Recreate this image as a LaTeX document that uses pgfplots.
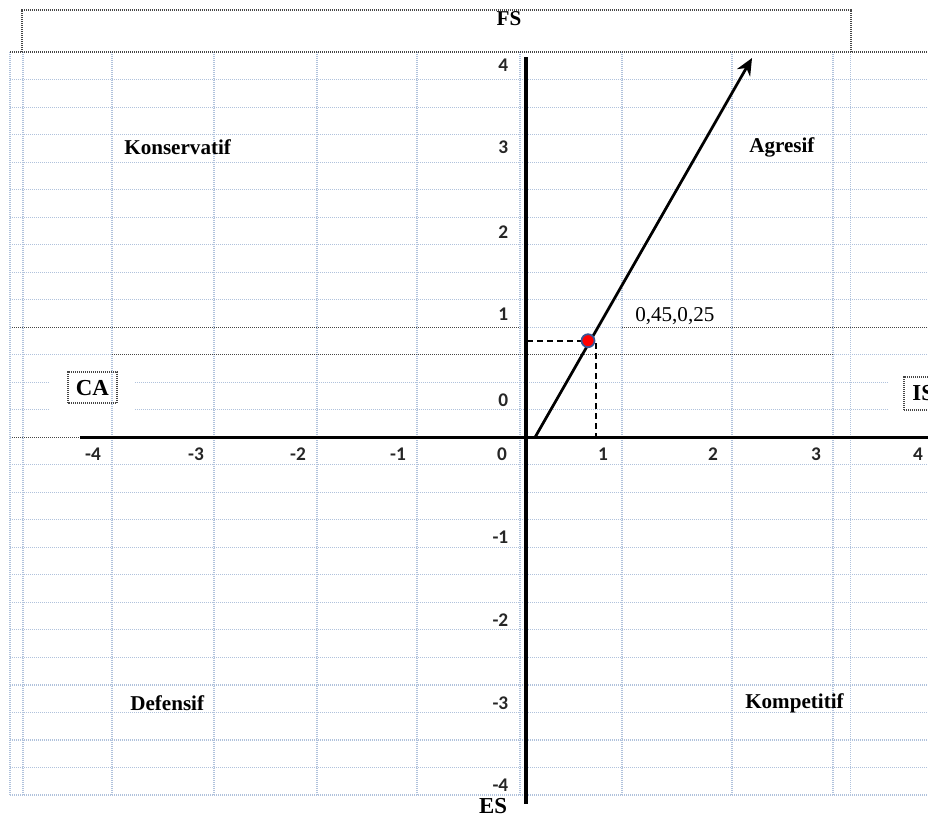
\documentclass[border=0pt]{standalone}
\usepackage{pgfplots}
\pgfplotsset{compat=1.18}
\usepackage{fontspec}
\setmainfont{Liberation Serif}
\newfontfamily\calibri{Carlito}
\usetikzlibrary{arrows.meta}
\definecolor{gridc}{RGB}{176,194,220}
\definecolor{darkdot}{RGB}{70,70,70}
\definecolor{ptedge}{RGB}{55,85,150}
\tikzset{
  lgrid/.style={draw=gridc, line width=0.22mm, dash pattern=on 0.2mm off 0.2mm},
  dgrid/.style={draw=darkdot, line width=0.28mm, dash pattern=on 0.2mm off 0.2mm},
  qlab/.style={font=\bfseries\fontsize{12}{14}\selectfont, inner sep=0pt},
}
\begin{document}
\begin{tikzpicture}
\begin{axis}[
  scale only axis, width=185.6mm, height=163.4mm,
  xmin=-5.122, xmax=3.932, ymin=-4.599, ymax=5.297,
  axis lines=middle, axis line style={draw=none},
  clip=false,
  xtick={-4.215,-3.210,-2.215,-1.239,-0.224,0.761,1.834,2.839,3.834},
  xticklabels={-4,-3,-2,-1,0,1,2,3,4},
  ytick={-4.211,-3.218,-2.213,-1.208,0.452,1.49,2.483,3.512,4.506},
  yticklabels={-4,-3,-2,-1,0,1,2,3,4},
  major tick length=0pt,
  ticklabel style={font=\calibri\bfseries\fontsize{11}{13}\selectfont, text=black!85},
  xticklabel style={anchor=north, yshift=-0.8mm},
  yticklabel style={anchor=east, xshift=-2.1mm},
]
\coordinate (bl) at (rel axis cs:0,0);
\coordinate (tr) at (rel axis cs:1,1);
% light spreadsheet grid: rows
\pgfplotsinvokeforeach{4.3333,4,3.6667,3.3333,3,2.6667,2.3333,2,1.6667,1.3333,1,0,-0.3333,-0.6667,-1,-1.3333,-1.6667,-2,-2.3333,-2.6667,-3,-3.3333,-3.6667,-4,-4.3333}{
  \draw[lgrid] (axis cs:-5.024,#1) -- (axis cs:3.932,#1);
}
\pgfplotsinvokeforeach{0.6667,0.3333}{
  \draw[lgrid] (axis cs:-5.024,#1) -- (axis cs:-4.634,#1);
  \draw[lgrid] (axis cs:-3.805,#1) -- (axis cs:3.532,#1);
}
% light grid: columns
\pgfplotsinvokeforeach{-5.024,-4.898,-4.029,-3.034,-2.029,-1.054,-0.049,0.946,2.020,3.005,3.180}{
  \draw[lgrid] (axis cs:#1,4.6667) -- (axis cs:#1,-4.3333);
}
% dark dotted lines (title box, borders)
\draw[dgrid] (axis cs:-4.907,4.6667) -- (axis cs:-4.907,5.176) -- (axis cs:3.180,5.176) -- (axis cs:3.180,4.6667);
\draw[dgrid] (axis cs:-5.024,4.6667) -- (axis cs:3.932,4.6667);
\draw[dgrid] (axis cs:-5.004,1.3333) -- (axis cs:-0.049,1.3333);
\draw[dgrid] (axis cs:0.946,1.3333) -- (axis cs:3.932,1.3333);
\draw[dgrid] (axis cs:-4.029,1) -- (axis cs:3.005,1);
\draw[dgrid] (axis cs:-5.004,0) -- (axis cs:-4.341,0);
% CA and IS boxes
\draw[dgrid] (axis cs:-4.459,0.416) rectangle (axis cs:-3.980,0.791);
\node[font=\bfseries\fontsize{13}{15}\selectfont, inner sep=0pt] at (axis cs:-4.22,0.60) {CA};
\draw[dgrid] (axis cs:3.698,0.331) rectangle (axis cs:4.2,0.730);
\node[font=\bfseries\fontsize{13}{15}\selectfont, inner sep=0pt, anchor=west] at (axis cs:3.776,0.537) {IS};
% main axes
\addplot[black, line width=0.65mm] coordinates {(-4.341,0) (3.932,0)};
\addplot[black, line width=0.65mm] coordinates {(0.01,4.604) (0.01,-4.437)};
% arrow
\addplot[black, line width=0.55mm, -{Stealth[length=3.4mm, width=3mm]}] coordinates {(0.098,0) (2.215,4.594)};
% dashed guides
\addplot[black, line width=0.48mm, dash pattern=on 1.2mm off 0.8mm] coordinates {(0.02,1.17) (0.615,1.17)};
\addplot[black, line width=0.48mm, dash pattern=on 1.2mm off 0.8mm] coordinates {(0.690,1.142) (0.690,0.02)};
% point
\addplot[only marks, mark=*, mark size=1.3mm, mark options={fill=red, draw=ptedge, line width=0.35mm}] coordinates {(0.615,1.17)};
\node[font=\fontsize{12}{14}\selectfont, anchor=west, inner sep=0pt] at (axis cs:1.073,1.469) {0,45,0,25};
% quadrant and axis labels
\node[qlab, anchor=west] at (axis cs:-3.912,3.512) {Konservatif};
\node[qlab, anchor=west] at (axis cs:2.185,3.512) {Agresif};
\node[qlab, anchor=west] at (axis cs:-3.854,-3.218) {Defensif};
\node[qlab, anchor=west] at (axis cs:2.146,-3.218) {Kompetitif};
\node[qlab] at (axis cs:-0.156,5.067) {FS};
\node[qlab, font=\bfseries\fontsize{13}{15}\selectfont] at (axis cs:-0.312,-4.468) {ES};
\end{axis}
\pgfresetboundingbox
\path[use as bounding box] (bl) rectangle (tr);
\end{tikzpicture}
\end{document}
